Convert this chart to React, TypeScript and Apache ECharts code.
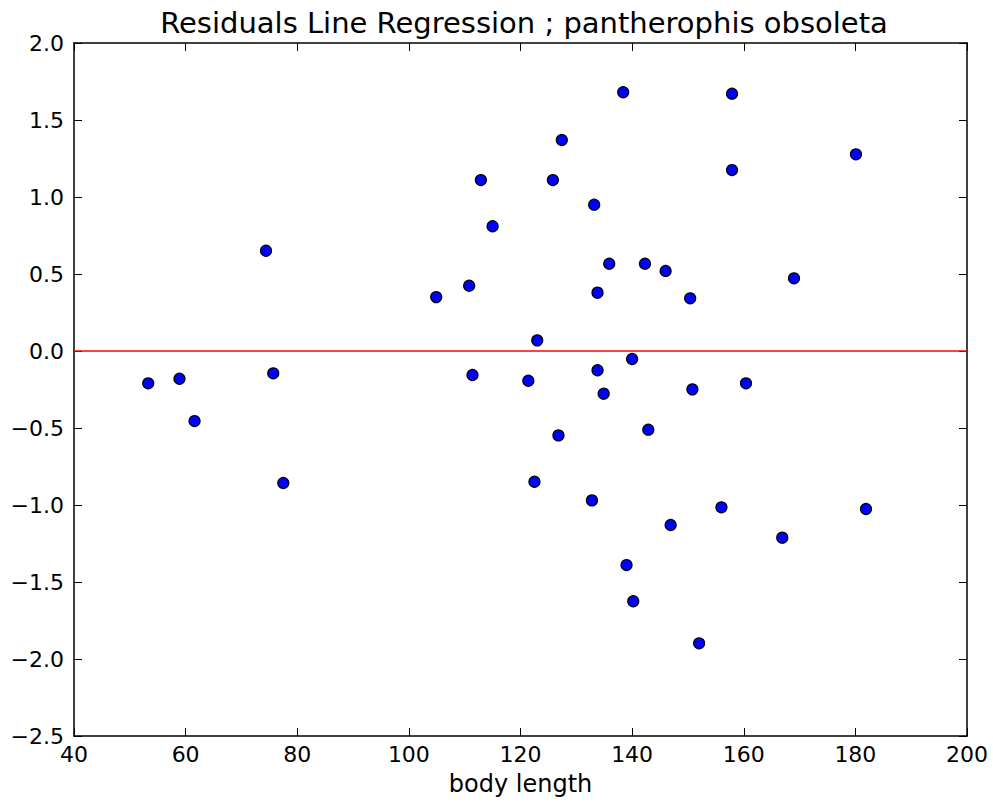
import React, { useEffect, useRef } from "react";
import * as echarts from "echarts";

const TITLE = "Residuals Line Regression ; pantherophis obsoleta";
const X_LABEL = "body length";

const bodyLength = [
  53.3, 58.9, 61.6, 74.4, 75.7, 77.5, 104.9, 110.8, 111.4, 112.9, 115.0,
  121.4, 122.5, 123.0, 125.8, 126.8, 127.4, 132.8, 133.2, 133.8, 133.8,
  134.9, 135.9, 138.4, 139.0, 140.0, 140.2, 142.3, 142.9, 146.0, 146.9,
  150.4, 150.8, 152.0, 156.0, 157.9, 157.9, 160.4, 166.9, 169.0, 180.1, 181.9,
];
const residuals = [
  -0.21, -0.18, -0.455, 0.651, -0.145, -0.857, 0.35, 0.424, -0.156, 1.11, 0.81,
  -0.193, -0.849, 0.069, 1.11, -0.548, 1.37, -0.97, 0.95, 0.379, -0.125,
  -0.277, 0.567, 1.68, -1.39, -0.052, -1.625, 0.567, -0.511, 0.52, -1.13,
  0.342, -0.249, -1.898, -1.015, 1.671, 1.175, -0.21, -1.212, 0.472, 1.277, -1.026,
];

const X_MIN = 40, X_MAX = 200, X_STEP = 20;
const Y_MIN = -2.5, Y_MAX = 2.0, Y_STEP = 0.5;
const ZERO_LINE = 0;

const FONT = "DejaVu Sans";

export default function App() {
  const ref = useRef<HTMLDivElement>(null);
  useEffect(() => {
    if (!ref.current) return;
    const chart = echarts.init(ref.current, undefined, { renderer: "svg" });
    const frameLine = { show: true, onZero: false, lineStyle: { color: "#000", width: 1.5 } };
    const tick = { show: true, inside: true, length: 8, lineStyle: { color: "#000", width: 1 } };
    const data = bodyLength.map((x, i) => [x, residuals[i]]);
    chart.setOption({
      animation: false,
      backgroundColor: "#fff",
      title: {
        text: TITLE,
        left: 519,
        textAlign: "center",
        top: 3,
        textStyle: { fontFamily: FONT, fontSize: 29, fontWeight: "normal", color: "#000" },
      },
      grid: { left: 74, top: 43, right: 26, bottom: 67 },
      xAxis: [
        {
          type: "value",
          min: X_MIN,
          max: X_MAX,
          interval: X_STEP,
          position: "bottom",
          axisLine: frameLine,
          axisTick: tick,
          splitLine: { show: false },
          axisLabel: {
            show: true,
            showMinLabel: true,
            showMaxLabel: true,
            margin: 7,
            color: "#000",
            fontFamily: FONT,
            fontSize: 22,
          },
          name: X_LABEL,
          nameLocation: "middle",
          nameGap: 36,
          nameTextStyle: { fontFamily: FONT, fontSize: 24, color: "#000" },
        },
        {
          type: "value",
          min: X_MIN,
          max: X_MAX,
          interval: X_STEP,
          position: "top",
          axisLine: frameLine,
          axisTick: tick,
          splitLine: { show: false },
          axisLabel: { show: false },
        },
      ],
      yAxis: [
        {
          type: "value",
          min: Y_MIN,
          max: Y_MAX,
          interval: Y_STEP,
          position: "left",
          axisLine: frameLine,
          axisTick: tick,
          splitLine: { show: false },
          axisLabel: {
            show: true,
            showMinLabel: true,
            showMaxLabel: true,
            margin: 10,
            color: "#000",
            fontFamily: FONT,
            fontSize: 22,
            formatter: (v: number) => v.toFixed(1).replace("-", "\u2212"),
          },
        },
        {
          type: "value",
          min: Y_MIN,
          max: Y_MAX,
          interval: Y_STEP,
          position: "right",
          axisLine: frameLine,
          axisTick: tick,
          splitLine: { show: false },
          axisLabel: { show: false },
        },
      ],
      series: [
        {
          type: "line",
          data: [[X_MIN, ZERO_LINE], [X_MAX, ZERO_LINE]],
          showSymbol: false,
          symbol: "none",
          lineStyle: { color: "#ff0000", width: 1.5 },
          z: 1,
          silent: true,
        },
        {
          type: "scatter",
          data,
          symbol: "circle",
          symbolSize: 11,
          itemStyle: { color: "#0000ff", borderColor: "#000", borderWidth: 1.2, opacity: 1 },
          z: 3,
        },
      ],
    });
    return () => chart.dispose();
  }, []);
  return (
    <div
      ref={ref}
      style={{ position: "fixed", left: 0, top: 0, width: 993, height: 803, background: "#fff" }}
    />
  );
}
